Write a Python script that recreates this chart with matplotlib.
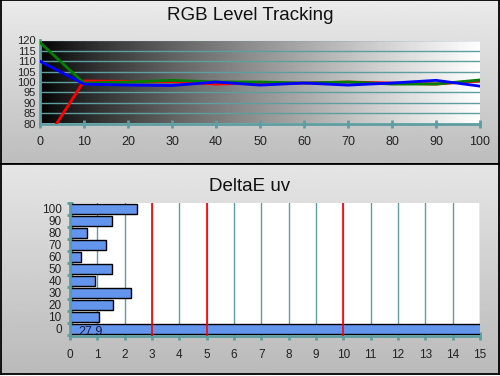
import numpy as np
import matplotlib
matplotlib.use("Agg")
import matplotlib.pyplot as plt

plt.rcParams['font.family'] = ['Liberation Sans', 'DejaVu Sans']

# RGB level tracking data
levels = [0, 10, 20, 30, 40, 50, 60, 70, 80, 90, 100]
red = [67.5, 100.5, 100.3, 100.2, 99.0, 99.5, 99.5, 100.0, 99.5, 99.0, 100.5]
green = [119.0, 99.5, 100.0, 100.8, 100.0, 100.0, 99.5, 100.0, 99.0, 99.0, 101.0]
blue = [110.0, 99.0, 98.5, 98.3, 100.0, 98.5, 99.5, 98.5, 99.5, 100.8, 98.0]

# DeltaE uv data
de_levels = [0, 10, 20, 30, 40, 50, 60, 70, 80, 90, 100]
de_values = [27.9, 1.05, 1.59, 2.22, 0.9, 1.52, 0.39, 1.31, 0.61, 1.52, 2.44]
limits = [3, 5, 10]

teal = '#5f9ea0'

fig = plt.figure(figsize=(5.0, 3.76), dpi=100)

# panel backgrounds
def panel(rect, top, bottom):
    ax = fig.add_axes(rect, zorder=-10)
    grad = np.linspace(top, bottom, 100)[:, None] * np.ones((1, 2))
    ax.imshow(grad, cmap='gray', vmin=0, vmax=1, aspect='auto',
              extent=[0, 1, 0, 1])
    ax.set_xlim(0, 1)
    ax.set_ylim(0, 1)
    ax.set_xticks([])
    ax.set_yticks([])
    for s in ax.spines.values():
        s.set_linewidth(1.3)
        s.set_color('black')
    return ax

panel([0.001, 0.565, 0.997, 0.434], 0.92, 0.74)
panel([0.001, 0.004, 0.997, 0.561], 0.90, 0.73)

# top chart
ax1 = fig.add_axes([40 / 500, 1 - 123.5 / 376, 440 / 500, 83 / 376])
bg = np.linspace(0, 1, 256)[None, :] ** 0.8
ax1.imshow(bg, cmap='gray', aspect='auto', extent=[0, 100, 80, 120], zorder=0)
ax1.plot(levels, red, color='#ff0000', lw=2, zorder=3)
ax1.plot(levels, green, color='#008000', lw=2, zorder=3)
ax1.plot(levels, blue, color='#0000ff', lw=2, zorder=4)
ax1.set_xlim(0, 100)
ax1.set_ylim(80, 120)
ax1.set_xticks(range(0, 101, 10))
ax1.set_yticks(range(80, 121, 5))
ax1.grid(axis='y', color=teal, lw=1)
ax1.set_axisbelow(False)
for s in ['top', 'right']:
    ax1.spines[s].set_visible(False)
ax1.spines['left'].set_color(teal)
ax1.spines['bottom'].set_color(teal)
ax1.spines['left'].set_linewidth(2)
ax1.spines['bottom'].set_linewidth(2)
ax1.tick_params(axis='x', colors=teal, direction='inout', length=6, width=2,
                labelcolor='#222222', labelsize=9, pad=6)
ax1.tick_params(axis='y', length=0, labelcolor='#222222', labelsize=8, pad=3)
fig.text(0.5, 1 - 16 / 376, 'RGB Level Tracking', ha='center', va='center',
         fontsize=13.5, color='#111111')

# bottom chart
ax2 = fig.add_axes([70 / 500, 1 - 336 / 376, 410 / 500, 133 / 376])
ax2.set_facecolor('white')
ax2.barh(de_levels, de_values, height=8.4, color='#6495ed',
         edgecolor='black', lw=1, zorder=2)
for v in limits:
    ax2.axvline(v, color='#ff0000', lw=1.2, zorder=3)
ax2.set_xlim(0, 15)
ax2.set_ylim(-6, 105)
ax2.set_xticks(range(0, 16))
ax2.set_yticks(de_levels)
ax2.set_yticks([l - 5 for l in de_levels] + [105], minor=True)
ax2.grid(axis='x', color=teal, lw=1, zorder=1)
ax2.set_axisbelow(True)
for s in ['top', 'right']:
    ax2.spines[s].set_visible(False)
ax2.spines['left'].set_color(teal)
ax2.spines['bottom'].set_color(teal)
ax2.spines['left'].set_linewidth(2)
ax2.spines['bottom'].set_linewidth(2)
ax2.tick_params(axis='x', colors=teal, direction='inout', length=6, width=2,
                labelcolor='#222222', labelsize=8.5, pad=6)
ax2.tick_params(axis='y', which='major', length=0, labelcolor='#222222',
                labelsize=8.5, pad=6)
ax2.tick_params(axis='y', which='minor', colors=teal, direction='inout',
                length=5, width=2)
ax2.text(0.75, de_levels[0] - 2.5, f'{de_values[0]:.1f}', ha='center', va='center',
         fontsize=9, color='#1a1a40', zorder=5)
fig.text(0.5, 1 - 186 / 376, 'DeltaE uv', ha='center', va='center',
         fontsize=13.5, color='#111111')

fig.savefig('out.png', dpi=100)
